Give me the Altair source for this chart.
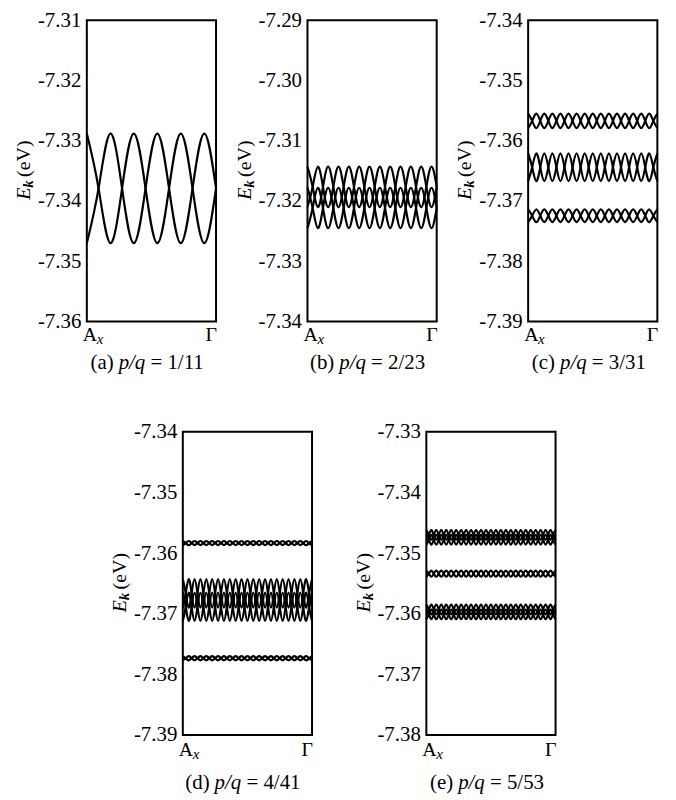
import altair as alt
import pandas as pd

SERIF = "Liberation Serif"

# ---------------- data ----------------
# y-axis domains and tick values (eV)
a_domain = [-7.36, -7.31]
b_domain = [-7.34, -7.29]
c_domain = [-7.39, -7.34]
d_domain = [-7.39, -7.34]
e_domain = [-7.38, -7.33]

a_ticks = [-7.36, -7.35, -7.34, -7.33, -7.32, -7.31]
b_ticks = [-7.34, -7.33, -7.32, -7.31, -7.30, -7.29]
c_ticks = [-7.39, -7.38, -7.37, -7.36, -7.35, -7.34]
d_ticks = [-7.39, -7.38, -7.37, -7.36, -7.35, -7.34]
e_ticks = [-7.38, -7.37, -7.36, -7.35, -7.34, -7.33]

# sub-bands: (upper edge, lower edge) of each pair of curves (eV)
a_bands = [(-7.3288, -7.3470)]
b_bands = [(-7.3143, -7.3210), (-7.3178, -7.3245)]
c_bands = [(-7.3555, -7.3579), (-7.3621, -7.3667), (-7.3714, -7.3735)]
d_bands = [(-7.3580, -7.3587), (-7.3643, -7.3690), (-7.3665, -7.3712), (-7.3770, -7.3777)]
e_bands = [(-7.3462, -7.3478), (-7.3470, -7.3486), (-7.3529, -7.3539),
           (-7.3585, -7.3601), (-7.3593, -7.3609)]

# level sequence of each curve along A_x -> Gamma (T = upper edge, M = centre, B = lower edge)
a_curves = ["TMBMTMBMTMBM",
            "BMTMBMTMBMTM"]
b_curves = ["TMBMTMBMTMBMTMBMTMBMTMBMTM",
            "BMTMBMTMBMTMBMTMBMTMBMTMBM"]
c_curves = ["TMBMTMBMTMBMTMBMTMBMTMBMTMBMTMBMT",
            "BMTMBMTMBMTMBMTMBMTMBMTMBMTMBMTMB"]
d_curves = ["TMBMTMBMTMBMTMBMTMBMTMBMTMBMTMBMTMBMTMBMTMBMT",
            "BMTMBMTMBMTMBMTMBMTMBMTMBMTMBMTMBMTMBMTMBMTMB"]
e_curves = ["TMBMTMBMTMBMTMBMTMBMTMBMTMBMTMBMTMBMTMBMTMBMTMBMTMBMT",
            "BMTMBMTMBMTMBMTMBMTMBMTMBMTMBMTMBMTMBMTMBMTMBMTMBMTMB"]

# captions
a_cap = ("(a)", "p/q", "= 1/11")
b_cap = ("(b)", "p/q", "= 2/23")
c_cap = ("(c)", "p/q", "= 3/31")
d_cap = ("(d)", "p/q", "= 4/41")
e_cap = ("(e)", "p/q", "= 5/53")


# ---------------- helpers ----------------
def band_table(bands, curves):
    rows = []
    for bi, (top, bot) in enumerate(bands):
        lv = {"T": top, "M": (top + bot) / 2, "B": bot}
        for ci, s in enumerate(curves):
            n = len(s) - 1
            for j, ch in enumerate(s):
                rows.append({"x": j / n, "e": lv[ch], "cid": f"{bi}-{ci}"})
    return pd.DataFrame(rows)


def txt(s, x, y, size=21, style="normal", weight="normal", align="left", angle=0, opacity=1):
    return alt.Chart(pd.DataFrame({"s": [s]})).mark_text(
        font=SERIF, fontSize=size, fontStyle=style, fontWeight=weight,
        align=align, baseline="middle", angle=angle, color="black", opacity=opacity
    ).encode(text="s:N", x=alt.value(x), y=alt.value(y))


W = 130


def panel(bands, curves, domain, ticks, cap, h, xl_off, cap_off, pad_right=False):
    df = band_table(bands, curves)
    lines = alt.Chart(df).mark_line(
        interpolate="natural", color="black", strokeWidth=2.2
    ).encode(
        x=alt.X("x:Q", scale=alt.Scale(domain=[0, 1], nice=False, zero=False), axis=None),
        y=alt.Y("e:Q", scale=alt.Scale(domain=domain, nice=False, zero=False),
                axis=alt.Axis(values=ticks,
                              labelExpr="'-' + format(abs(datum.value), '.2f')",
                              ticks=False, domain=False, grid=False, title=None,
                              labelFont=SERIF, labelFontSize=21, labelColor="black",
                              labelPadding=6)),
        detail="cid:N",
    )
    # y title  E_k (eV), rotated
    y0 = h / 2 + 29
    tx = -63
    title = [
        txt("E", tx, y0, size=20, style="italic", angle=270),
        txt("k", tx + 4, y0 - 12, size=15, style="italic", weight="bold", angle=270),
        txt("(eV)", tx, y0 - 23, size=20, angle=270),
    ]
    # x labels
    xl = [
        txt("A", -4, h + xl_off, size=20),
        txt("x", 10, h + xl_off + 4, size=15, style="italic"),
        txt("Γ", W + 1, h + xl_off, size=20, align="right"),
    ]
    xp = W / 2 - 33
    caps = [
        txt(cap[0], xp - 5, h + cap_off, align="right"),
        txt(cap[1], xp, h + cap_off, style="italic"),
        txt(cap[2], xp + 32, h + cap_off),
    ]
    extra = [txt(".", W + 5, h / 2, opacity=0)] if pad_right else []
    return alt.layer(lines, *title, *xl, *caps, *extra).properties(width=W, height=h)


pa = panel(a_bands, a_curves, a_domain, a_ticks, a_cap, 303, 14, 42)
pb = panel(b_bands, b_curves, b_domain, b_ticks, b_cap, 303, 14, 42)
pc = panel(c_bands, c_curves, c_domain, c_ticks, c_cap, 303, 14, 42)
pdd = panel(d_bands, d_curves, d_domain, d_ticks, d_cap, 305, 15, 48)
pe = panel(e_bands, e_curves, e_domain, e_ticks, e_cap, 305, 15, 48, pad_right=True)

row1 = alt.hconcat(pa, pb, pc, spacing=92, bounds="flush")
row2 = alt.hconcat(pdd, pe, spacing=115, bounds="flush")

chart = alt.vconcat(row1, row2, spacing=46, center=True).properties(
    padding={"left": 5, "top": -2, "right": 5, "bottom": 5},
    background="white",
).configure_view(stroke="black", strokeWidth=2)

chart.save("out.html", embed_options={"renderer": "svg", "actions": False})
